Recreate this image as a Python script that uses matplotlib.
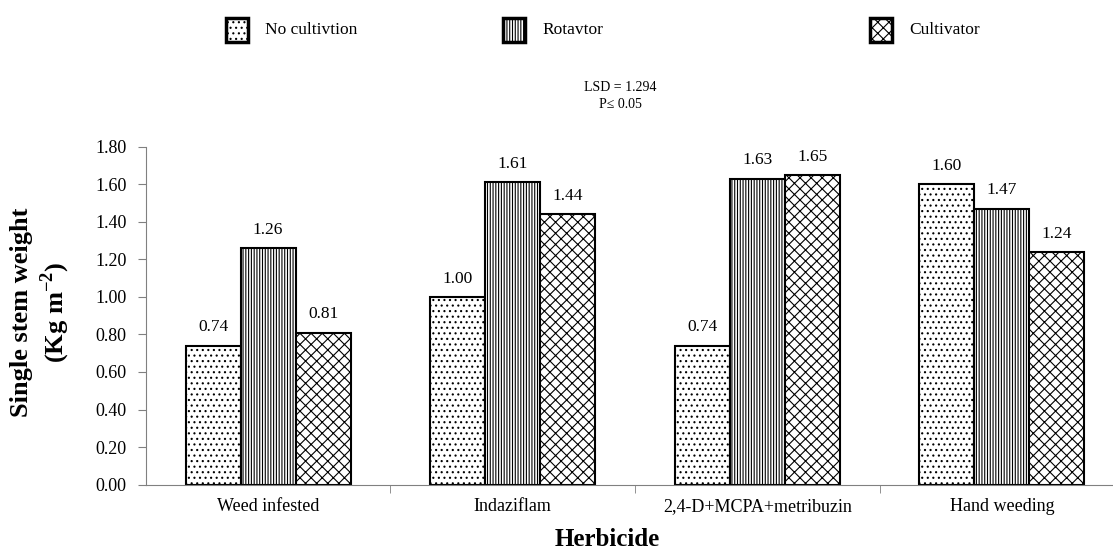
import numpy as np
import matplotlib
matplotlib.use('Agg')
import matplotlib.pyplot as plt
from matplotlib.patches import Rectangle

plt.rcParams['font.family'] = ['Liberation Serif', 'DejaVu Serif']
plt.rcParams['mathtext.fontset'] = 'custom'
plt.rcParams['mathtext.rm'] = 'Liberation Serif'
plt.rcParams['mathtext.bf'] = 'Liberation Serif:bold'
plt.rcParams['hatch.linewidth'] = 0.8

# Data
categories = ['Weed infested', 'Indaziflam', '2,4-D+MCPA+metribuzin', 'Hand weeding']
series_names = ['No cultivtion', 'Rotavtor', 'Cultivator']
no_cult = [0.74, 1.00, 0.74, 1.60]
rotavator = [1.26, 1.61, 1.63, 1.47]
cultivator = [0.81, 1.44, 1.65, 1.24]
hatches = ['...', '||||||', 'xxx']

W, H = 1113, 550
fig = plt.figure(figsize=(W / 100, H / 100), dpi=100)
ax = fig.add_axes([0.131, 0.119, 0.879, 0.614])

x = np.arange(len(categories))
w = 0.225
for i, (vals, h) in enumerate(zip([no_cult, rotavator, cultivator], hatches)):
    pos = x + (i - 1) * w
    ax.bar(pos, vals, w, color='white', edgecolor='black', hatch=h, linewidth=1.5)
    for p, v in zip(pos, vals):
        ax.text(p, v + 0.055, f'{v:.2f}', ha='center', va='bottom', fontsize=12.5)

ax.set_xlim(-0.5, len(categories) - 0.5)
ax.set_ylim(0, 1.8)
yt = np.arange(0, 1.81, 0.2)
ax.set_yticks(yt)
ax.set_yticklabels([f'{t:.2f}' for t in yt], fontsize=13)
ax.set_xticks(x)
ax.set_xticklabels(categories, fontsize=13)
ax.tick_params(axis='x', length=0, pad=10)
ax.set_xticks(np.arange(0.5, len(categories) - 0.5, 1.0), minor=True)
ax.tick_params(axis='x', which='minor', length=6, color='#808080', direction='out')
ax.tick_params(axis='y', length=6, color='#808080', direction='out', pad=8)

for s in ['top', 'right']:
    ax.spines[s].set_visible(False)
for s in ['left', 'bottom']:
    ax.spines[s].set_color('#808080')

# axis titles placed in figure pixels
fig.text(41 / W, 1 - 312 / H, 'Single stem weight\n(Kg m$^{\\mathbf{-2}}$)', rotation=90,
         ha='center', va='center', fontsize=19, fontweight='bold', linespacing=1.25)
fig.text(607 / W, 1 - 539 / H, 'Herbicide', ha='center', va='center', fontsize=18, fontweight='bold')

fig.text(0.557, 0.825, 'LSD = 1.294\nP\u2264 0.05', ha='center', va='center', fontsize=10, linespacing=1.45)

# legend drawn by hand so the items sit where they do in the original
leg_x = [226, 503, 870]
for lx, name, h in zip(leg_x, series_names, hatches):
    fig.add_artist(Rectangle((lx / W, 1 - 42 / H), 22 / W, 24 / H,
                             transform=fig.transFigure, facecolor='white', edgecolor='black',
                             hatch=h, linewidth=2.5))
    fig.text((lx + 39) / W, 1 - 30 / H, name, ha='left', va='center', fontsize=12.5)

fig.savefig('out.png', dpi=100)
